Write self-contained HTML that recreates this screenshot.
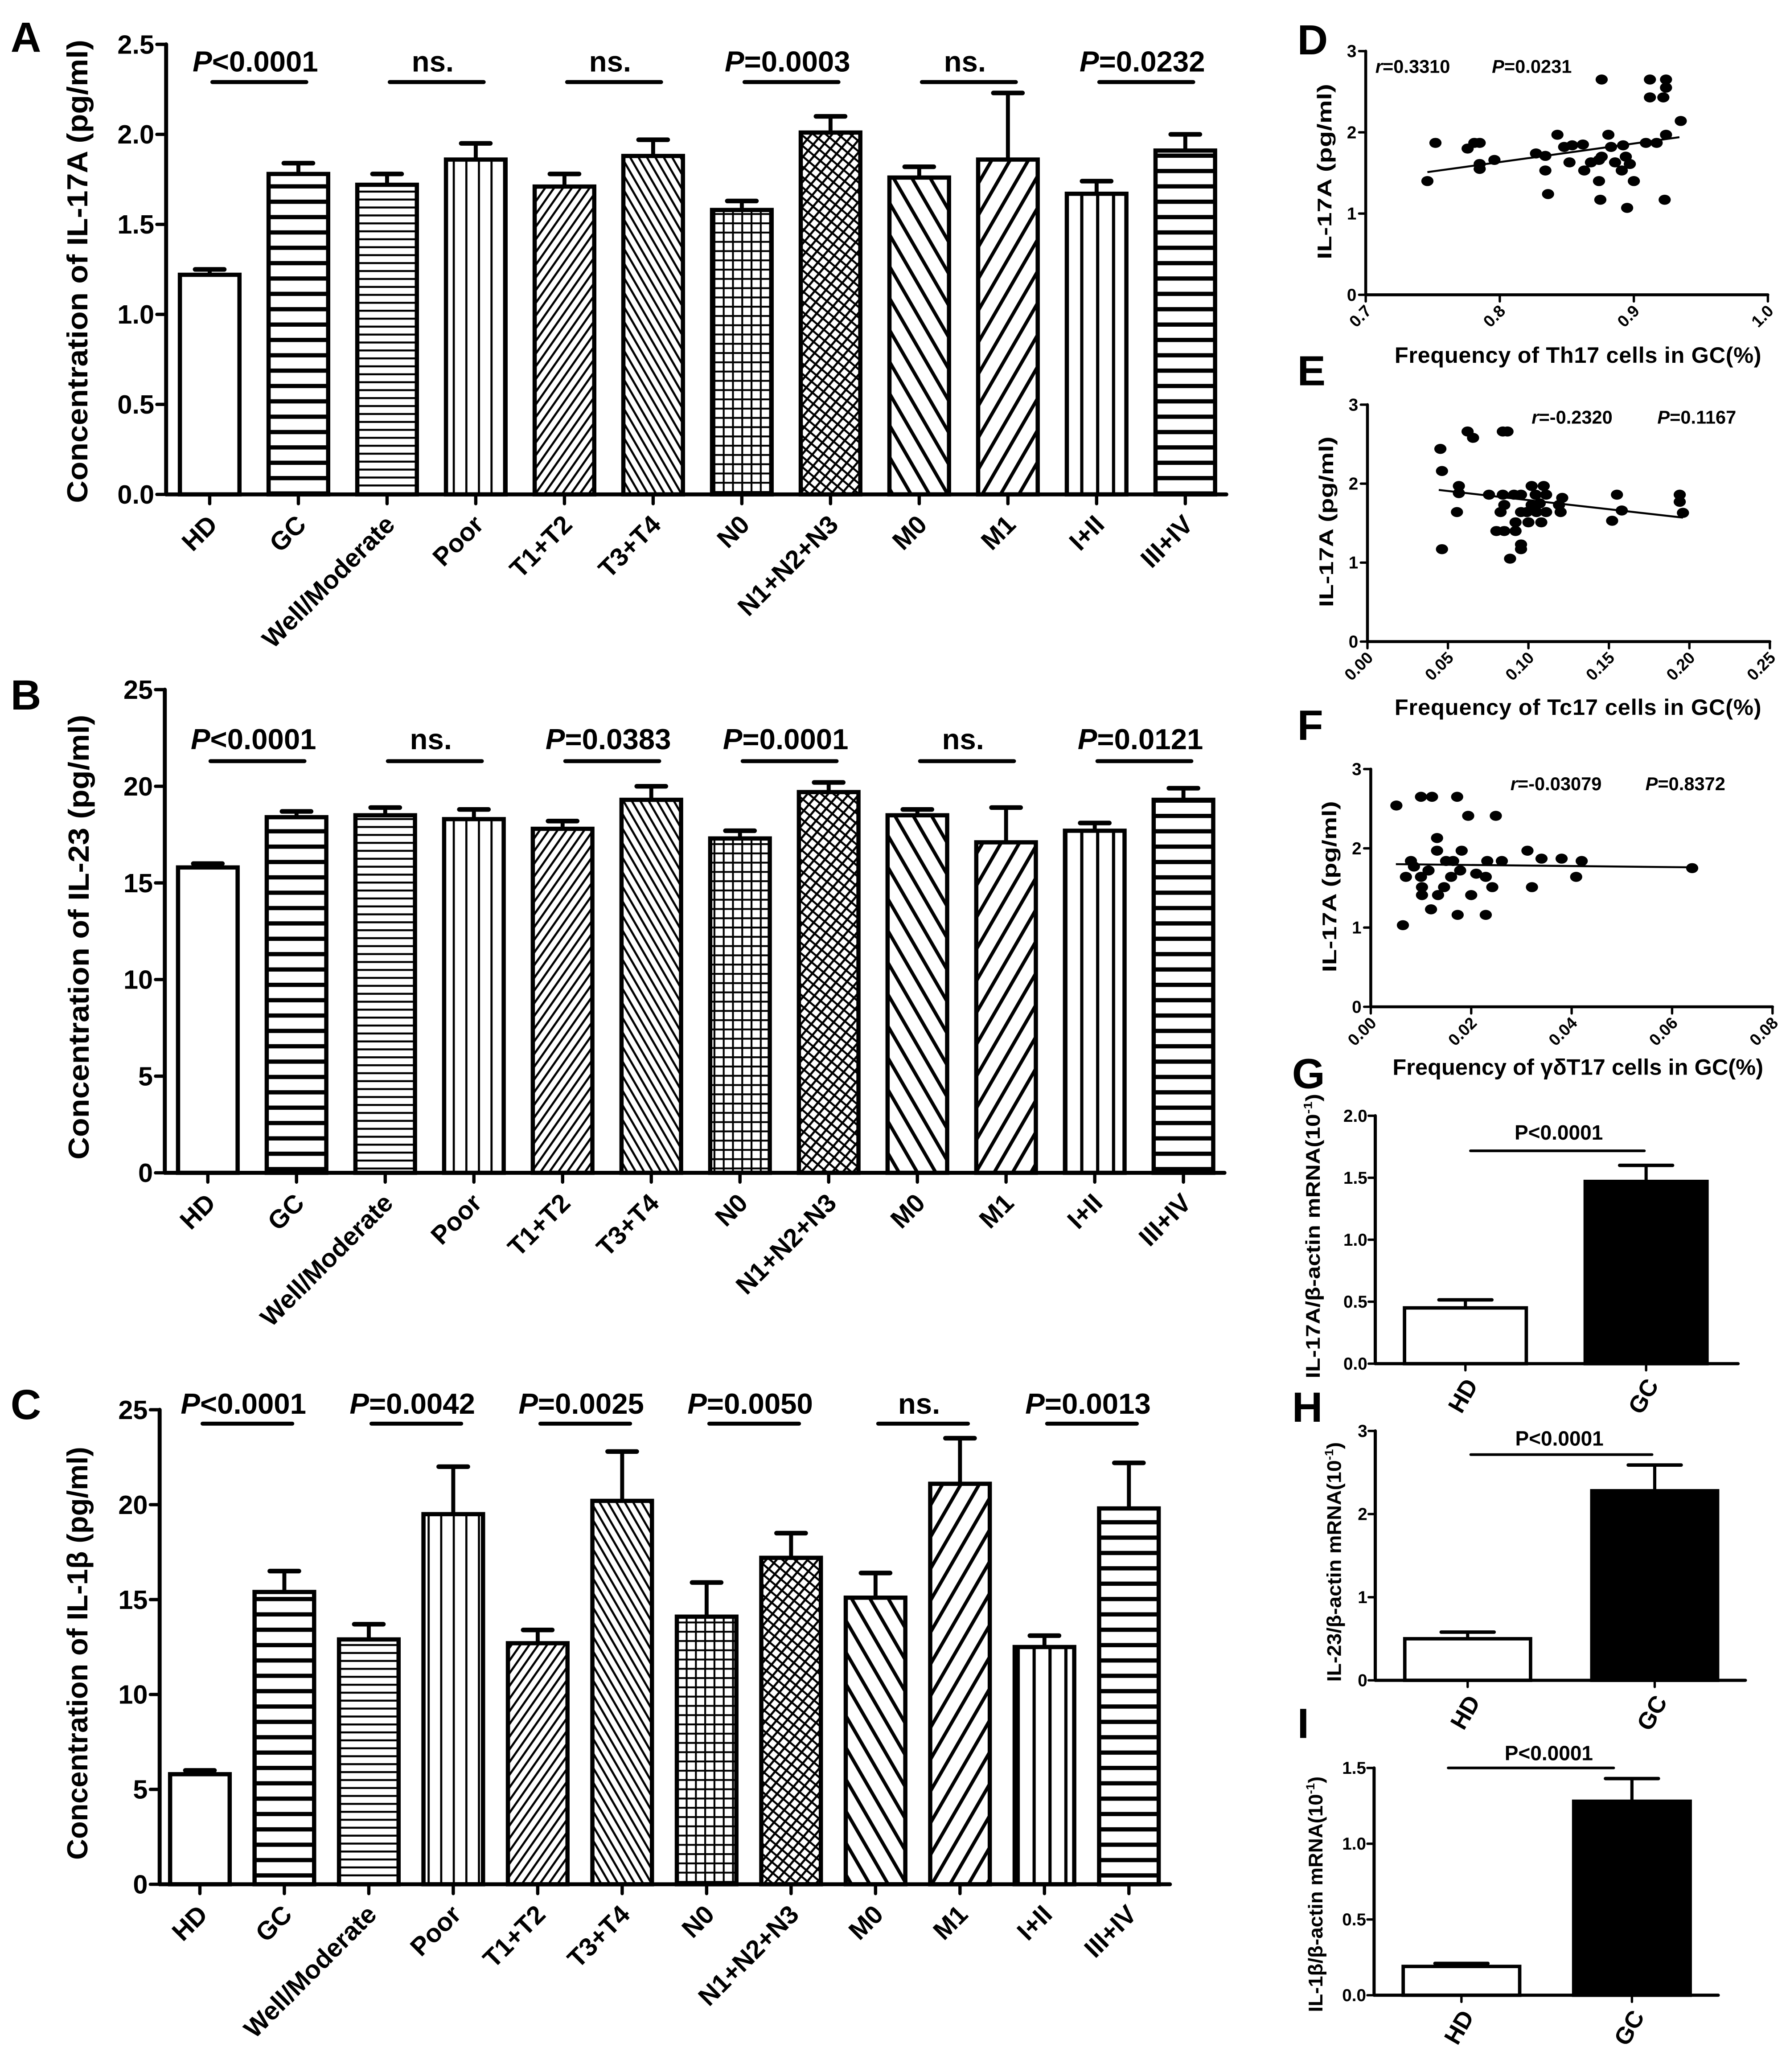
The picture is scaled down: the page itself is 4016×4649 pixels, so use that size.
<!DOCTYPE html>
<html><head><meta charset="utf-8"><style>
html,body{margin:0;padding:0;background:#fff;}
svg{display:block;}
text{font-family:"Liberation Sans",Arial,sans-serif;font-weight:bold;fill:#000;}
</style></head><body>
<svg id="fig" xmlns="http://www.w3.org/2000/svg" width="4016" height="4649" viewBox="0 0 1352.2 1565.3" preserveAspectRatio="none">
<defs>
<pattern id="p-hthick" patternUnits="userSpaceOnUse" width="10" height="11.6"><rect x="0" y="0" width="10" height="3.2" fill="#000"/></pattern>
<pattern id="p-hthin" patternUnits="userSpaceOnUse" width="10" height="6"><rect x="0" y="0" width="10" height="1.5" fill="#000"/></pattern>
<pattern id="p-vert" patternUnits="userSpaceOnUse" width="9.5" height="10"><rect x="0" y="0" width="1.6" height="10" fill="#000"/></pattern>
<pattern id="p-vsparse" patternUnits="userSpaceOnUse" width="12" height="10"><rect x="0" y="0" width="2.4" height="10" fill="#000"/></pattern>
<pattern id="p-dfwd" patternUnits="userSpaceOnUse" width="5.5" height="10" patternTransform="rotate(35)"><rect x="0" y="0" width="1.6" height="10" fill="#000"/></pattern>
<pattern id="p-dback" patternUnits="userSpaceOnUse" width="5.5" height="10" patternTransform="rotate(-30)"><rect x="0" y="0" width="1.6" height="10" fill="#000"/></pattern>
<pattern id="p-grid" patternUnits="userSpaceOnUse" width="7" height="7"><rect x="0" y="0" width="7" height="1.4" fill="#000"/><rect x="0" y="0" width="1.4" height="7" fill="#000"/></pattern>
<pattern id="p-cross" patternUnits="userSpaceOnUse" width="6" height="6" patternTransform="rotate(40)"><rect x="0" y="0" width="6" height="1.5" fill="#000"/><rect x="0" y="0" width="1.6" height="6" fill="#000"/></pattern>
<pattern id="p-wback" patternUnits="userSpaceOnUse" width="12" height="10" patternTransform="rotate(-30)"><rect x="0" y="0" width="2.6" height="10" fill="#000"/></pattern>
<pattern id="p-wfwd" patternUnits="userSpaceOnUse" width="12" height="10" patternTransform="rotate(30)"><rect x="0" y="0" width="2.6" height="10" fill="#000"/></pattern>
</defs>
</svg>
<script>
// ---------- Data ----------
const groups = ["HD","GC","Well/Moderate","Poor","T1+T2","T3+T4","N0","N1+N2+N3","M0","M1","I+II","III+IV"];
const il17Means = [1.22,1.78,1.72,1.86,1.71,1.88,1.58,2.01,1.76,1.86,1.67,1.91];
const il17Errs  = [0.03,0.06,0.06,0.09,0.07,0.09,0.05,0.09,0.06,0.37,0.07,0.09];
const il23Means = [15.8,18.4,18.5,18.3,17.8,19.3,17.3,19.7,18.5,17.1,17.7,19.3];
const il23Errs  = [0.2,0.3,0.4,0.5,0.4,0.7,0.4,0.5,0.3,1.8,0.4,0.6];
const il1bMeans = [5.8,15.4,12.9,19.5,12.7,20.2,14.1,17.2,15.1,21.1,12.5,19.8];
const il1bErrs  = [0.2,1.1,0.8,2.5,0.7,2.6,1.8,1.3,1.3,2.4,0.6,2.4];
const sigA = ["P<0.0001","ns.","ns.","P=0.0003","ns.","P=0.0232"];
const sigB = ["P<0.0001","ns.","P=0.0383","P=0.0001","ns.","P=0.0121"];
const sigC = ["P<0.0001","P=0.0042","P=0.0025","P=0.0050","ns.","P=0.0013"];
const ticksA = [0,0.5,1.0,1.5,2.0,2.5];
const ticksA_lab = ["0.0","0.5","1.0","1.5","2.0","2.5"];
const ticksBC = [0,5,10,15,20,25];
const ticksBC_lab = ["0","5","10","15","20","25"];

const th17X = [0.746,0.752,0.776,0.781,0.785,0.785,0.785,0.796,0.827,0.834,0.834,0.836,0.843,0.848,0.852,0.854,0.862,0.863,0.868,0.874,0.874,0.875,0.876,0.876,0.881,0.883,0.886,0.891,0.892,0.894,0.895,0.897,0.900,0.909,0.912,0.912,0.917,0.922,0.923,0.924,0.924,0.924,0.935];
const th17Y = [1.40,1.87,1.80,1.87,1.87,1.61,1.55,1.66,1.74,1.71,1.53,1.24,1.97,1.82,1.63,1.84,1.85,1.53,1.63,1.66,1.40,1.17,2.65,1.70,1.97,1.82,1.63,1.53,1.84,1.70,1.07,1.61,1.40,1.87,2.65,2.43,1.87,2.43,1.17,2.65,2.55,1.97,2.14];
const th17Fit = [[0.746,1.51],[0.934,1.94]];
const tc17X = [0.0453,0.0463,0.0463,0.0568,0.0568,0.0556,0.0622,0.0656,0.0755,0.0801,0.0827,0.085,0.0841,0.0841,0.087,0.085,0.091,0.0886,0.092,0.092,0.0954,0.0954,0.0954,0.0954,0.099,0.1,0.102,0.102,0.1045,0.105,0.107,0.108,0.1095,0.111,0.111,0.119,0.12,0.121,0.152,0.155,0.158,0.194,0.194,0.196];
const tc17Y = [2.44,2.16,1.17,1.97,1.88,1.64,2.66,2.58,1.86,1.40,1.64,1.40,1.86,2.66,2.66,1.73,1.86,1.05,1.51,1.40,1.86,1.64,1.23,1.17,1.64,1.51,1.97,1.73,1.86,1.64,1.75,1.51,1.97,1.86,1.64,1.73,1.64,1.82,1.53,1.86,1.66,1.86,1.77,1.63];
const tc17Fit = [[0.0443,1.92],[0.196,1.57]];
const gdX = [0.0051,0.0064,0.007,0.008,0.0086,0.01,0.01,0.0102,0.0102,0.0115,0.0122,0.012,0.0132,0.0132,0.0134,0.0146,0.015,0.016,0.0164,0.0172,0.0173,0.0178,0.0181,0.0194,0.02,0.021,0.0229,0.0229,0.0232,0.0242,0.0249,0.0261,0.0312,0.0321,0.034,0.038,0.0409,0.042,0.064];
const gdY = [2.54,1.03,1.64,1.84,1.77,2.65,1.64,1.51,1.41,1.72,2.65,1.23,2.13,1.97,1.41,1.51,1.84,1.64,1.84,2.65,1.16,1.72,1.97,2.41,1.41,1.68,1.64,1.16,1.84,1.51,2.41,1.84,1.97,1.51,1.87,1.87,1.64,1.84,1.75];
const gdFit = [[0.005,1.80],[0.064,1.76]];

const mrnaGroups = ["HD","GC"];
const g17Means = [0.45,1.47]; const g17Errs = [0.065,0.13];
const h23Means = [0.50,2.28]; const h23Errs = [0.08,0.31];
const i1bMeans = [0.19,1.28]; const i1bErrs = [0.02,0.15];

// ---------- helpers ----------
const NS = "http://www.w3.org/2000/svg";
const svg = document.getElementById('fig');
function mk(tag, attrs, parent){
  const e = document.createElementNS(NS, tag);
  for (const k in attrs) e.setAttribute(k, attrs[k]);
  (parent||svg).appendChild(e);
  return e;
}
function line(x1,y1,x2,y2,w,parent){
  return mk('line',{x1:x1,y1:y1,x2:x2,y2:y2,stroke:'#000','stroke-width':w||2.5,'stroke-linecap':'round'},parent);
}
function txt(x,y,s,size,anchor,parent){
  const t = mk('text',{x:x,y:y,'font-size':size,'text-anchor':anchor||'start'},parent);
  t.textContent = s;
  return t;
}
function letter(x,y,s){
  const t = txt(x,y,s,32,'start');
  
  
}

const fills = ['#fff','url(#p-hthick)','url(#p-hthin)','url(#p-vert)','url(#p-dfwd)','url(#p-dback)','url(#p-grid)','url(#p-cross)','url(#p-wback)','url(#p-wfwd)','url(#p-vsparse)','url(#p-hthick)'];

function barPanel(cfg){
  const g = mk('g',{});
  
  
  const y = v => cfg.bottom - (v/cfg.max)*(cfg.bottom-cfg.top);
  const cx = i => cfg.c0 + i*cfg.step;
  const xEnd = cx(groups.length-1)+31;
  // y axis
  const ya = line(cfg.axisX, cfg.top, cfg.axisX, cfg.bottom, 3, g);
  
  
  cfg.ticks.forEach((t,i)=>{
    line(cfg.axisX-7, y(t), cfg.axisX, y(t), 2.5, g);
    const tl = txt(cfg.axisX-9, y(t)+7, cfg.tickLab[i], 20, 'end', g);
    
    
  });
  // bars
  groups.forEach((name,i)=>{
    const v = cfg.means[i], e = cfg.errs[i];
    const c = cx(i);
    line(c, y(v), c, y(v+e), 3, g);
    line(c-11, y(v+e), c+11, y(v+e), 3.5, g);
    const r = mk('rect',{x:c-22.5,y:y(v),width:45,height:cfg.bottom-y(v),fill:fills[i],stroke:'#000','stroke-width':3.2},g);
    
    
    line(c, cfg.bottom, c, cfg.bottom+7, 2.5, g);
    const lt = mk('text',{x:0,y:0,'font-size':19.5,'text-anchor':'end',transform:'translate('+(c+7)+','+(cfg.bottom+24)+') rotate(-45)'},g);
    lt.textContent = name;
    
    
  });
  const xa = line(cfg.axisX, cfg.bottom, xEnd, cfg.bottom, 3, g);
  
  
  // significance
  cfg.sig.forEach((s,k)=>{
    const a = cx(2*k)+2, b = cx(2*k+1)+6;
    const sl = line(a, cfg.sigLine, b, cfg.sigLine, 3, g);
    
    
    const t = mk('text',{x:(a+b)/2-3,y:cfg.sigText,'font-size':22,'text-anchor':'middle'},g);
    if (s[0]==='P'){
      const ts = mk('tspan',{'font-style':'italic'},t); ts.textContent='P';
      const ts2 = mk('tspan',{},t); ts2.textContent=s.slice(1);
    } else t.textContent = s;
    
    
  });
  // y title
  const yt = mk('text',{x:0,y:0,'font-size':22,'text-anchor':'middle',textLength:cfg.titleLen,lengthAdjust:'spacingAndGlyphs',transform:'translate('+cfg.titleX+','+cfg.titleY+') rotate(-90)'},g);
  yt.textContent = cfg.title;
  
  
}

barPanel({id:'a',top:33.5,bottom:373.5,max:2.5,axisX:125.5,c0:158.4,step:67,means:il17Means,errs:il17Errs,ticks:ticksA,tickLab:ticksA_lab,sig:sigA,sigText:54,sigLine:62,title:'Concentration of IL-17A (pg/ml)',titleX:66,titleY:205,titleLen:350});
barPanel({id:'b',top:521,bottom:886,max:25,axisX:124.5,c0:157,step:67,means:il23Means,errs:il23Errs,ticks:ticksBC,tickLab:ticksBC_lab,sig:sigB,sigText:566,sigLine:575,title:'Concentration of IL-23 (pg/ml)',titleX:67,titleY:708,titleLen:336});
barPanel({id:'c',top:1065,bottom:1423.5,max:25,axisX:120.6,c0:151,step:63.8,means:il1bMeans,errs:il1bErrs,ticks:ticksBC,tickLab:ticksBC_lab,sig:sigC,sigText:1068,sigLine:1075.5,title:'Concentration of IL-1β (pg/ml)',titleX:66,titleY:1249,titleLen:312});

letter(8,39,'A'); letter(8,536,'B'); letter(8,1072,'C');

// ---------- scatter panels ----------
function scatter(cfg){
  const g = mk('g',{});
  
  
  const sx = v => cfg.x0 + (v-cfg.xmin)/(cfg.xmax-cfg.xmin)*(cfg.x1-cfg.x0);
  const sy = v => cfg.y0 - v/3*(cfg.y0-cfg.y3);
  const ya = line(cfg.x0, cfg.y3, cfg.x0, cfg.y0, 2.2, g);
  
  
  const xa = line(cfg.x0, cfg.y0, cfg.x1, cfg.y0, 2.2, g);
  
  
  [0,1,2,3].forEach(t=>{
    line(cfg.x0-5, sy(t), cfg.x0, sy(t), 1.8, g);
    const tl = txt(cfg.x0-7, sy(t)+4.5, String(t), 13, 'end', g);
    
    
  });
  cfg.xticks.forEach((t,i)=>{
    line(sx(t), cfg.y0, sx(t), cfg.y0+5, 1.8, g);
    const tl = mk('text',{x:0,y:0,'font-size':12.5,'text-anchor':'end',transform:'translate('+(sx(t)+5)+','+(cfg.y0+13)+') rotate(-45)'},g);
    tl.textContent = cfg.xlabs[i];
    
    
  });
  cfg.xs.forEach((xv,i)=>{
    const c = mk('ellipse',{cx:sx(xv),cy:sy(cfg.ys[i]),rx:4.6,ry:3.8,fill:'#000'},g);
    
    
  });
  const fl = mk('line',{x1:sx(cfg.fit[0][0]),y1:sy(cfg.fit[0][1]),x2:sx(cfg.fit[1][0]),y2:sy(cfg.fit[1][1]),stroke:'#000','stroke-width':1.5},g);
  
  
  const yt = mk('text',{x:0,y:0,'font-size':15,'text-anchor':'middle',textLength:(cfg.y0-cfg.y3)*0.72,lengthAdjust:'spacingAndGlyphs',transform:'translate('+(cfg.x0-26)+','+((cfg.y0+cfg.y3)/2-1)+') rotate(-90)'},g);
  yt.textContent = 'IL-17A (pg/ml)';
  
  
  const xt = mk('text',{x:1192,y:cfg.titleY,'font-size':17,'text-anchor':'middle',textLength:cfg.titleLen,lengthAdjust:'spacing'},g);
  xt.textContent = cfg.title;
  
  
  const r = mk('text',{x:cfg.rX,y:cfg.annY,'font-size':14},g);
  const r1 = mk('tspan',{'font-style':'italic'},r); r1.textContent='r';
  const r2 = mk('tspan',{},r); r2.textContent=cfg.r;
  
  
  const p = mk('text',{x:cfg.pX,y:cfg.annY,'font-size':14},g);
  const p1 = mk('tspan',{'font-style':'italic'},p); p1.textContent='P';
  const p2 = mk('tspan',{},p); p2.textContent=cfg.p;
  
  
}

scatter({id:'d',x0:1031.7,x1:1335.5,xmin:0.7,xmax:1.0,y0:222.7,y3:38.6,xticks:[0.7,0.8,0.9,1.0],xlabs:['0.7','0.8','0.9','1.0'],xs:th17X,ys:th17Y,fit:th17Fit,title:'Frequency of Th17 cells in GC(%)',titleY:274,titleLen:277,r:'=0.3310',p:'=0.0231',rX:1039,pX:1127,annY:55});
scatter({id:'e',x0:1033,x1:1337,xmin:0,xmax:0.25,y0:484.7,y3:305.7,xticks:[0,0.05,0.10,0.15,0.20,0.25],xlabs:['0.00','0.05','0.10','0.15','0.20','0.25'],xs:tc17X,ys:tc17Y,fit:tc17Fit,title:'Frequency of Tc17 cells in GC(%)',titleY:540,titleLen:277,r:'=-0.2320',p:'=0.1167',rX:1157,pX:1252,annY:320});
scatter({id:'f',x0:1035.5,x1:1339,xmin:0,xmax:0.08,y0:760.6,y3:581,xticks:[0,0.02,0.04,0.06,0.08],xlabs:['0.00','0.02','0.04','0.06','0.08'],xs:gdX,ys:gdY,fit:gdFit,title:'Frequency of γδT17 cells in GC(%)',titleY:812,titleLen:280,r:'=-0.03079',p:'=0.8372',rX:1141,pX:1243,annY:597});

letter(980,41,'D'); letter(980,291,'E'); letter(980,559,'F');

// ---------- mRNA bar panels ----------
function mrna(cfg){
  const g = mk('g',{});
  
  
  const y = v => cfg.bottom - v/cfg.max*(cfg.bottom-cfg.top);
  const ya = line(cfg.axisX, cfg.top, cfg.axisX, cfg.bottom, 2.4, g);
  
  
  cfg.ticks.forEach((t,i)=>{
    line(cfg.axisX-5, y(t), cfg.axisX, y(t), 1.8, g);
    const tl = txt(cfg.axisX-6, y(t)+4.5, cfg.tickLab[i], 13, 'end', g);
    
    
  });
  mrnaGroups.forEach((name,i)=>{
    const c = cfg.cx[i], v = cfg.means[i], e = cfg.errs[i];
    line(c, y(v), c, y(v+e), 2.4, g);
    line(c-20, y(v+e), c+20, y(v+e), 2.6, g);
    const r = mk('rect',{x:c-cfg.bw/2,y:y(v),width:cfg.bw,height:cfg.bottom-y(v),fill:i===0?'#fff':'#000',stroke:'#000','stroke-width':2.6},g);
    
    
    line(c, cfg.bottom, c, cfg.bottom+5, 1.8, g);
    const lt = mk('text',{x:0,y:0,'font-size':18,'text-anchor':'end',transform:'translate('+(c+10)+','+(cfg.bottom+16)+') rotate(-60)'},g);
    lt.textContent = name;
    
    
  });
  const xa = line(cfg.axisX, cfg.bottom, cfg.xEnd, cfg.bottom, 2.4, g);
  
  
  const sl = line(cfg.sig[0], cfg.sigLine, cfg.sig[1], cfg.sigLine, 2, g);
  
  
  const st = txt(cfg.sigX, cfg.sigText, 'P<0.0001', 15.5, 'middle', g);
  
  
  const yt = mk('text',{x:0,y:0,'font-size':15,'text-anchor':'middle',textLength:cfg.titleLen,lengthAdjust:'spacingAndGlyphs',transform:'translate('+cfg.titleX+','+cfg.titleY+') rotate(-90)'},g);
  yt.textContent = cfg.title;
  const sup = mk('tspan',{'font-size':9,dy:-6},yt); sup.textContent='-1';
  const cl = mk('tspan',{dy:6},yt); cl.textContent=')';
  
  
}

mrna({id:'g',axisX:1038.9,top:842.9,bottom:1030.2,max:2.0,ticks:[0,0.5,1.0,1.5,2.0],tickLab:['0.0','0.5','1.0','1.5','2.0'],cx:[1107,1243.5],bw:92,xEnd:1313,means:g17Means,errs:g17Errs,sig:[1110.8,1242.2],sigLine:869.4,sigText:861,sigX:1177.5,title:'IL-17A/β-actin mRNA(10',titleX:997,titleY:933.8,titleLen:215});
mrna({id:'h',axisX:1038.9,top:1081,bottom:1269.4,max:3,ticks:[0,1,2,3],tickLab:['0','1','2','3'],cx:[1108.7,1250],bw:95,xEnd:1318.5,means:h23Means,errs:h23Errs,sig:[1111,1248],sigLine:1098.9,sigText:1092,sigX:1178,title:'IL-23/β-actin mRNA(10',titleX:1013,titleY:1180,titleLen:181});
mrna({id:'i',axisX:1038,top:1335.6,bottom:1507.3,max:1.5,ticks:[0,0.5,1.0,1.5],tickLab:['0.0','0.5','1.0','1.5'],cx:[1104,1232.8],bw:88,xEnd:1298,means:i1bMeans,errs:i1bErrs,sig:[1094,1219],sigLine:1335.6,sigText:1329.8,sigX:1170,title:'IL-1β/β-actin mRNA(10',titleX:999,titleY:1431,titleLen:178});

letter(976,822,'G'); letter(976,1074,'H'); letter(980,1313,'I');
</script>
</body></html>
